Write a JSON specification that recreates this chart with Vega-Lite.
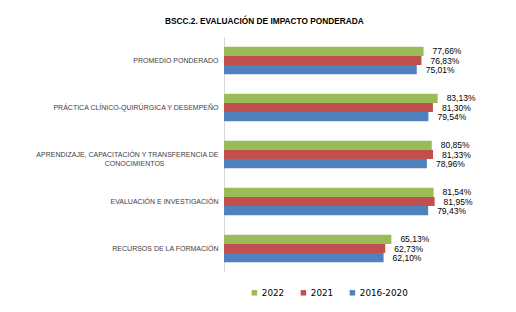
{
  "$schema": "https://vega.github.io/schema/vega-lite/v6.json",
  "width": 257,
  "height": 235,
  "autosize": {"type": "none"},
  "padding": {"left": 224, "top": 37, "right": 35, "bottom": 40},
  "background": "white",
  "title": {
    "text": "BSCC.2. EVALUACIÓN DE IMPACTO PONDERADA",
    "font": "Liberation Sans",
    "fontSize": 8.3,
    "fontWeight": "bold",
    "color": "#000000",
    "anchor": "start",
    "dx": -59,
    "offset": 12,
    "frame": "group"
  },
  "data": {
    "values": [
      {"cat": "PROMEDIO PONDERADO", "serie": "2022", "v": 0.7766},
      {"cat": "PROMEDIO PONDERADO", "serie": "2021", "v": 0.7683},
      {"cat": "PROMEDIO PONDERADO", "serie": "2016-2020", "v": 0.7501},
      {"cat": "PRÁCTICA CLÍNICO-QUIRÚRGICA Y DESEMPEÑO", "serie": "2022", "v": 0.8313},
      {"cat": "PRÁCTICA CLÍNICO-QUIRÚRGICA Y DESEMPEÑO", "serie": "2021", "v": 0.8130},
      {"cat": "PRÁCTICA CLÍNICO-QUIRÚRGICA Y DESEMPEÑO", "serie": "2016-2020", "v": 0.7954},
      {"cat": "APRENDIZAJE, CAPACITACIÓN Y TRANSFERENCIA DE CONOCIMIENTOS", "serie": "2022", "v": 0.8085},
      {"cat": "APRENDIZAJE, CAPACITACIÓN Y TRANSFERENCIA DE CONOCIMIENTOS", "serie": "2021", "v": 0.8133},
      {"cat": "APRENDIZAJE, CAPACITACIÓN Y TRANSFERENCIA DE CONOCIMIENTOS", "serie": "2016-2020", "v": 0.7896},
      {"cat": "EVALUACIÓN E INVESTIGACIÓN", "serie": "2022", "v": 0.8154},
      {"cat": "EVALUACIÓN E INVESTIGACIÓN", "serie": "2021", "v": 0.8195},
      {"cat": "EVALUACIÓN E INVESTIGACIÓN", "serie": "2016-2020", "v": 0.7943},
      {"cat": "RECURSOS DE LA FORMACIÓN", "serie": "2022", "v": 0.6513},
      {"cat": "RECURSOS DE LA FORMACIÓN", "serie": "2021", "v": 0.6273},
      {"cat": "RECURSOS DE LA FORMACIÓN", "serie": "2016-2020", "v": 0.6210}
    ]
  },
  "encoding": {
    "y": {
      "field": "cat",
      "type": "nominal",
      "sort": null,
      "scale": {"paddingInner": 0.42, "paddingOuter": 0.21},
      "axis": {
        "title": null,
        "ticks": false,
        "domainColor": "#d9d9d9",
        "labelPadding": 6,
        "labelFont": "Liberation Sans",
        "labelFontSize": 7,
        "labelColor": "#404040",
        "labelLimit": 220,
        "labelExpr": "datum.label == 'APRENDIZAJE, CAPACITACIÓN Y TRANSFERENCIA DE CONOCIMIENTOS' ? ['APRENDIZAJE, CAPACITACIÓN Y  TRANSFERENCIA DE', 'CONOCIMIENTOS\u2003\u2003\u2003\u2003\u2003\u2003\u2003\u2800'] : datum.label"
      }
    },
    "yOffset": {
      "field": "serie",
      "type": "nominal",
      "sort": ["2022", "2021", "2016-2020"]
    },
    "x": {
      "field": "v",
      "type": "quantitative",
      "scale": {"domain": [0, 1]},
      "axis": null
    }
  },
  "layer": [
    {
      "mark": {"type": "bar"},
      "encoding": {
        "color": {
          "field": "serie",
          "type": "nominal",
          "sort": ["2022", "2021", "2016-2020"],
          "scale": {"domain": ["2022", "2021", "2016-2020"], "range": ["#9BBB59", "#C0504D", "#4F81BD"]},
          "legend": {
            "title": null,
            "orient": "none",
            "direction": "horizontal",
            "legendX": 26,
            "legendY": 251,
            "symbolType": "square",
            "symbolSize": 30,
            "symbolStrokeWidth": 0,
            "labelFont": "DejaVu Sans",
            "labelFontSize": 8.8,
            "labelColor": "#000000",
            "labelOffset": 3,
            "columnPadding": 14
          }
        }
      }
    },
    {
      "mark": {"type": "text", "align": "left", "baseline": "middle", "dx": 9, "font": "Liberation Sans", "fontSize": 8.5, "color": "#000000"},
      "encoding": {
        "text": {"field": "v", "type": "quantitative", "format": ".2%"}
      }
    }
  ],
  "config": {
    "view": {"stroke": null},
    "locale": {"number": {"decimal": ",", "thousands": ".", "grouping": [3], "currency": ["", " €"]}}
  }
}
